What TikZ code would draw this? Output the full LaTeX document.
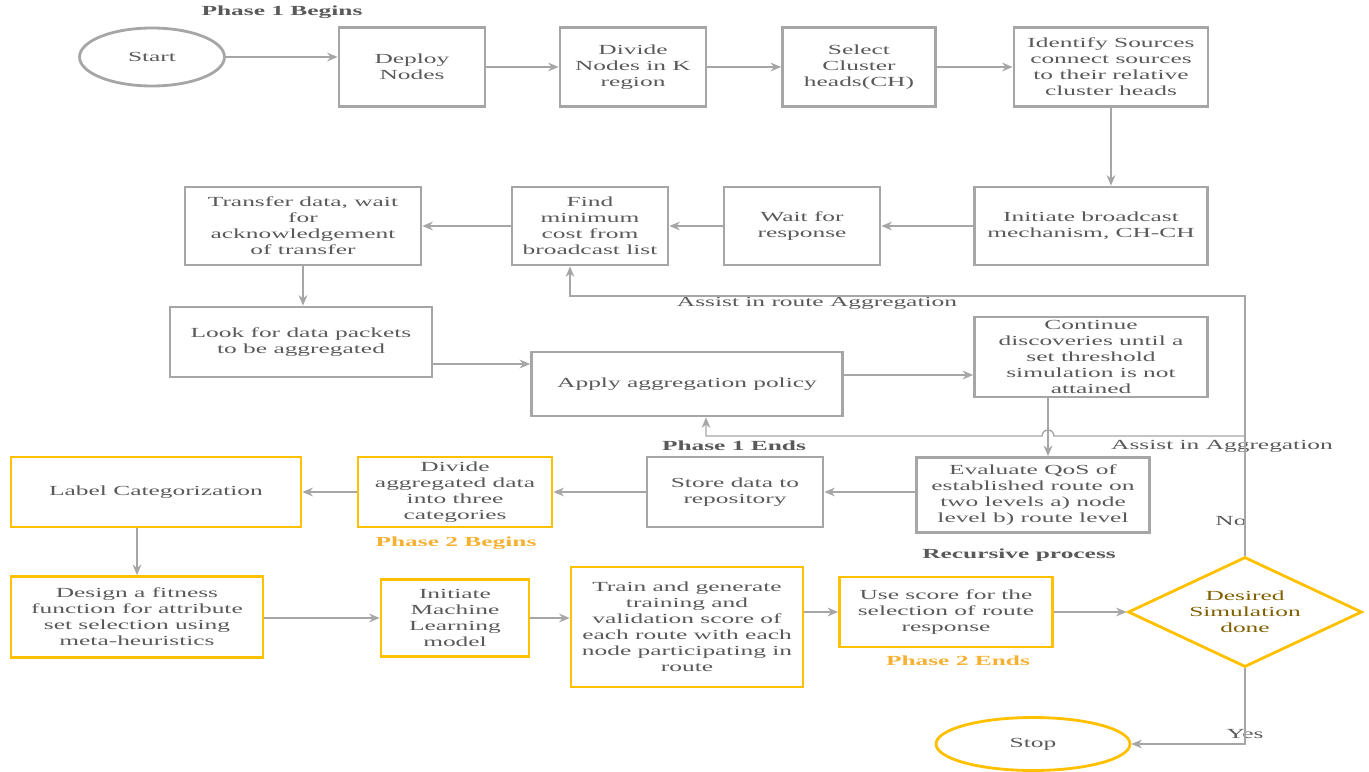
\documentclass[tikz,border=0pt]{standalone}
\usepackage{fontspec}
\setmainfont[FakeStretch=1.83]{Liberation Serif}
\usetikzlibrary{shapes.geometric,arrows.meta}
\definecolor{txtgray}{HTML}{595959}
\definecolor{linegray}{HTML}{A6A6A6}
\definecolor{gold}{HTML}{FFC000}
\definecolor{phaseorange}{HTML}{F4B134}
\definecolor{darkgold}{HTML}{7F6000}

\tikzstyle{every node}=[font={\fontsize{7.9}{9.07}\selectfont}, text=txtgray, align=center, inner sep=1pt]
\tikzstyle{proc}=[rectangle, draw=linegray, line width=1.6pt, minimum height=1.4cm]
\tikzstyle{mlproc}=[proc, draw=gold]
\tikzstyle{term}=[ellipse, draw=linegray, line width=1.6pt]
\tikzstyle{flow}=[draw=linegray, line width=0.8pt, -{Stealth[length=6pt,width=5pt]}]
\tikzstyle{phase}=[font={\fontsize{7.9}{9.07}\selectfont\bfseries}]
\tikzstyle{phasetwo}=[phase, text=phaseorange]

\begin{document}
\begin{tikzpicture}[x=0.02cm,y=-0.02cm]
    \useasboundingbox (0,0) rectangle (1369,771);

    \node [term, minimum width=2.9cm, minimum height=1.16cm] (start) at (152,57) {Start};
    \node [proc, minimum width=2.92cm, minimum height=1.58cm] (deploy) at (412,67) {Deploy\\Nodes};
    \node [proc, minimum width=2.92cm, minimum height=1.58cm] (divide) at (633,67) {Divide\\Nodes in K\\region};
    \node [proc, minimum width=3.06cm, minimum height=1.58cm] (select) at (859,67) {Select\\Cluster\\heads(CH)};
    \node [proc, minimum width=3.88cm, minimum height=1.58cm] (identify) at (1111,67) {Identify Sources\\connect sources\\to their relative\\cluster heads};
    \node [phase] (p1begin) at (282,12) {Phase 1 Begins};

    \node [proc, minimum width=4.66cm, minimum height=1.56cm] (bcast) at (1091,226) {Initiate broadcast\\mechanism, CH-CH};
    \node [proc, minimum width=3.12cm, minimum height=1.56cm] (wait) at (802,226) {Wait for\\response};
    \node [proc, minimum width=3.12cm, minimum height=1.56cm] (findmin) at (590,226) {Find\\minimum\\cost from\\broadcast list};
    \node [proc, minimum width=4.72cm, minimum height=1.56cm] (transfer) at (303,226) {Transfer data, wait\\for\\acknowledgement\\of transfer};

    \node [proc, minimum width=5.24cm] (look) at (301,342) {Look for data packets\\to be aggregated};
    \node [proc, minimum width=6.22cm, minimum height=1.28cm] (apply) at (687,384) {Apply aggregation policy};
    \node [proc, minimum width=4.66cm, minimum height=1.6cm] (cont) at (1091,357) {Continue\\discoveries until a\\set threshold\\simulation is not\\attained};

    \node [proc, minimum width=4.66cm, minimum height=1.5cm] (evalq) at (1033,495) {Evaluate QoS of\\established route on\\two levels a) node\\level b) route level};
    \node [proc, minimum width=3.52cm] (store) at (735,492) {Store data to\\repository};
    \node [mlproc, minimum width=3.88cm] (divagg) at (455,492) {Divide\\aggregated data\\into three\\categories};
    \node [mlproc, minimum width=5.8cm] (labelc) at (156,492) {Label Categorization};
    \node [phase] (p1end) at (734,446) {Phase 1 Ends};
    \node [phasetwo] (p2begin) at (456,543) {Phase 2 Begins};

    \node [mlproc, minimum width=5.04cm, minimum height=1.62cm] (design) at (137,617) {Design a fitness\\function for attribute\\set selection using\\meta-heuristics};
    \node [mlproc, minimum width=2.96cm, minimum height=1.54cm] (initml) at (455,618) {Initiate\\Machine\\Learning\\model};
    \node [mlproc, minimum width=4.64cm, minimum height=2.4cm] (train) at (687,627) {Train and generate\\training and\\validation score of\\each route with each\\node participating in\\route};
    \node [mlproc, minimum width=4.26cm] (usescore) at (946,612) {Use score for the\\selection of route\\response};
    \node [diamond, draw=gold, line width=1.6pt, aspect=2.13, minimum width=4.68cm, minimum height=2.2cm, inner sep=0pt, text=darkgold] (desired) at (1245,612) {Desired\\Simulation\\done};
    \node [term, draw=gold, minimum width=3.88cm, minimum height=1.06cm] (stop) at (1033,744) {Stop};
    \node [phase] (recur) at (1019,555) {Recursive process};
    \node [phasetwo] (p2end) at (958,661) {Phase 2 Ends};

    \node (assistroute) at (817,303) {Assist in route Aggregation};
    \node (assistagg) at (1222,446) {Assist in Aggregation};
    \node (no) at (1231,521) {No};
    \node (yes) at (1245,734) {Yes};

    \draw [flow] (start.east) -- (start.east -| deploy.west);
    \draw [flow] (deploy.east) -- (divide.west);
    \draw [flow] (divide.east) -- (select.west);
    \draw [flow] (select.east) -- (identify.west);
    \draw [flow] (identify.south) -- (identify.south |- bcast.north);
    \draw [flow] (bcast.west) -- (wait.east);
    \draw [flow] (wait.west) -- (findmin.east);
    \draw [flow] (findmin.west) -- (transfer.east);
    \draw [flow] (transfer.south) -- (transfer.south |- look.north);
    \draw [flow] (look.east |- 0,364) -- (apply.west |- 0,364);
    \draw [flow] (apply.east |- 0,375) -- (cont.west |- 0,375);
    \draw [flow] (1048,0 |- cont.south) -- (1048,0 |- evalq.north);
    \draw [flow] (evalq.west |- 0,492) -- (store.east);
    \draw [flow] (store.west) -- (divagg.east);
    \draw [flow] (divagg.west) -- (labelc.east);
    \draw [flow] (design.north |- labelc.south) -- (design.north);
    \draw [flow] (design.east |- 0,618) -- (initml.west |- 0,618);
    \draw [flow] (initml.east |- 0,618) -- (train.west |- 0,618);
    \draw [flow] (train.east |- 0,612) -- (usescore.west);
    \draw [flow] (usescore.east) -- (desired.west);
    \draw [flow] (desired.south) |- (stop.east);

    \coordinate (fbtop) at (1245,296);
    \coordinate (fbmid) at (1245,436);
    \draw [flow] (desired.north) -- (fbtop) -- (570,296) -- (570,0 |- findmin.south);
    \draw [flow] (fbmid) -- (1054,436) arc[start angle=0, end angle=180, radius=0.12cm] -- (706,436) -- (706,0 |- apply.south);
\end{tikzpicture}
\end{document}
